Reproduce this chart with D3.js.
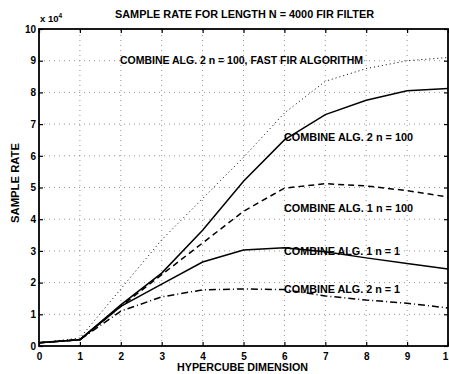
<!DOCTYPE html>
<html>
<head>
<meta charset="utf-8">
<script src="https://cdn.jsdelivr.net/npm/d3@7"></script>
<style>
body{margin:0;background:#fff;}
svg{display:block;font-family:"Liberation Sans",Arial,sans-serif;font-weight:bold;}
</style>
</head>
<body>
<div id="chart"></div>
<script>
// hypercube dimension (x) and sample rates (y)
const dims = [0,1,2,3,4,5,6,7,8,9,10];
const fastFir  = [1000,2500,18000,33500,46500,59500,73500,83500,87500,90000,91000];
const alg2n100 = [1000,2000,13000,23000,36500,52000,65000,73000,77500,80500,81200];
const alg1n100 = [1000,2000,12500,22500,32500,42500,49800,51200,50500,49000,47000];
const alg1n1   = [1000,2000,12500,19500,26500,30300,31000,29700,27800,26000,24300];
const alg2n1   = [1000,2000,11000,15500,17700,18000,17800,15800,14500,13500,12000];
const xTicks = [0,1,2,3,4,5,6,7,8,9,10];
const xTickLabels = ['0','1','2','3','4','5','6','7','8','9','1'];
const yTicks = [0,10000,20000,30000,40000,50000,60000,70000,80000,90000,100000];

const series = [
	{name:'fast', values:fastFir,  dash:'1,3',     label:'COMBINE ALG. 2 n = 100, FAST FIR ALGORITHM', lx:120, ly:64, lw:243},
	{name:'a2n100', values:alg2n100, dash:null,    label:'COMBINE ALG. 2 n = 100', lx:284, ly:141, lw:129},
	{name:'a1n100', values:alg1n100, dash:'6,4',   label:'COMBINE ALG. 1 n = 100', lx:284, ly:212, lw:129},
	{name:'a1n1', values:alg1n1,   dash:null,      label:'COMBINE ALG. 1 n = 1', lx:284, ly:255, lw:116},
	{name:'a2n1', values:alg2n1,   dash:'7,3,1,3', label:'COMBINE ALG. 2 n = 1', lx:284, ly:293, lw:116}
];

const W = 449, H = 374;
const margin = {t:29, r:1, b:28, l:39};

const svg = d3.select('#chart').append('svg')
	.attr('width', W)
	.attr('height', H);

const x = d3.scaleLinear().domain([0,10]).range([margin.l, W - margin.r]);
const y = d3.scaleLinear().domain([0,100000]).range([H - margin.b, margin.t]);

// grid (matlab style dotted)
const grid = svg.append('g').attr('class','grid');
grid.selectAll('.gx').data(xTicks.slice(1,-1)).enter()
	.append('line')
	.attr('x1', d => x(d)).attr('x2', d => x(d))
	.attr('y1', y(0)).attr('y2', y(100000))
	.attr('stroke','#666').attr('stroke-width',0.7)
	.attr('stroke-dasharray','1,4');
grid.selectAll('.gy').data(yTicks.slice(1,-1)).enter()
	.append('line')
	.attr('x1', x(0)).attr('x2', x(10))
	.attr('y1', d => y(d)).attr('y2', d => y(d))
	.attr('stroke','#666').attr('stroke-width',0.7)
	.attr('stroke-dasharray','1,4');

// lines
const line = d3.line()
	.x((d,i) => x(dims[i]))
	.y(d => y(d));

svg.selectAll('.series').data(series).enter()
	.append('path')
	.attr('class','series')
	.attr('d', d => line(d.values))
	.attr('fill','none')
	.attr('stroke','#000')
	.attr('stroke-width', d => d.dash === '1,3' ? 1 : 1.5)
	.attr('stroke-dasharray', d => d.dash);

// axes: ticks inside on all four sides
const tickLen = 4;
const xAxis = d3.axisBottom(x).tickValues(xTicks).tickSize(-tickLen).tickPadding(7)
	.tickFormat((d,i) => xTickLabels[i]);
const yAxis = d3.axisLeft(y).tickValues(yTicks).tickSize(-tickLen).tickPadding(3)
	.tickFormat(d => d/10000);

const gx = svg.append('g').attr('transform', `translate(0,${y(0)})`).call(xAxis);
const gy = svg.append('g').attr('transform', `translate(${x(0)},0)`).call(yAxis);
svg.append('g').attr('transform', `translate(0,${y(100000)})`)
	.call(d3.axisTop(x).tickValues(xTicks).tickSize(-tickLen).tickFormat(''));
svg.append('g').attr('transform', `translate(${x(10)},0)`)
	.call(d3.axisRight(y).tickValues(yTicks).tickSize(-tickLen).tickFormat(''));

svg.selectAll('.domain').remove();
svg.selectAll('.tick line').attr('stroke','#000').attr('stroke-width',1.2);
svg.selectAll('.tick text')
	.attr('fill','#000')
	.style('font-size','10px')
	.style('font-weight','bold')
	.style('font-family','"Liberation Sans",Arial,sans-serif');
// last x label sits at the right edge, nudge it in so it is not clipped
gx.selectAll('.tick text').filter(d => d === 10).attr('dx', -3);

// box
svg.append('rect')
	.attr('x', x(0)).attr('y', y(100000))
	.attr('width', x(10) - x(0)).attr('height', y(0) - y(100000))
	.attr('fill','none').attr('stroke','#000').attr('stroke-width',1.8);

// exponent
const exp = svg.append('text').attr('x', 40).attr('y', 22)
	.style('font-size','9.5px');
exp.append('tspan').text('x 10');
exp.append('tspan').attr('dy',-4).style('font-size','6.5px').text('4');

// title and axis labels
svg.append('text')
	.attr('x', 115).attr('y', 18)
	.attr('textLength', 259).attr('lengthAdjust','spacingAndGlyphs')
	.style('font-size','10.5px')
	.text('SAMPLE RATE FOR LENGTH N = 4000 FIR FILTER');

svg.append('text')
	.attr('x', 177).attr('y', 371)
	.attr('textLength', 131).attr('lengthAdjust','spacingAndGlyphs')
	.style('font-size','10.5px')
	.text('HYPERCUBE DIMENSION');

svg.append('text')
	.attr('transform','translate(19,183) rotate(-90)')
	.attr('text-anchor','middle')
	.attr('textLength', 80).attr('lengthAdjust','spacingAndGlyphs')
	.style('font-size','10.5px')
	.text('SAMPLE RATE');

// series labels
svg.selectAll('.lab').data(series).enter()
	.append('text')
	.attr('class','lab')
	.attr('x', d => d.lx).attr('y', d => d.ly)
	.attr('textLength', d => d.lw).attr('lengthAdjust','spacingAndGlyphs')
	.style('font-size','10.5px')
	.text(d => d.label);
</script>
</body>
</html>
